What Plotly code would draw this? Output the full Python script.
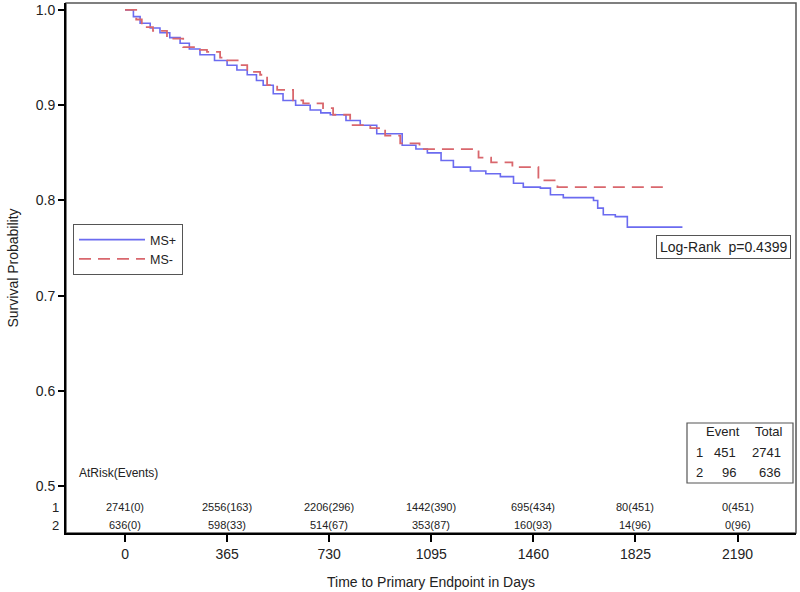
import plotly.graph_objects as go

# ---- data ----
ms_plus_t = [0, 30, 54, 90, 125, 160, 197, 230, 268, 320, 365, 400, 437, 470, 494, 530, 565, 610,
             662, 700, 734, 790, 841, 900, 991, 1040, 1081, 1130, 1174, 1235, 1290, 1342, 1389,
             1424, 1485, 1521, 1567, 1675, 1690, 1710, 1753, 1796, 1993]
ms_plus_s = [1.0, 0.993, 0.986, 0.981, 0.976, 0.971, 0.965, 0.959, 0.953, 0.947, 0.942, 0.937,
             0.932, 0.926, 0.921, 0.912, 0.905, 0.900, 0.895, 0.892, 0.890, 0.884, 0.879, 0.870,
             0.858, 0.854, 0.850, 0.842, 0.835, 0.831, 0.828, 0.825, 0.818, 0.814, 0.813, 0.806,
             0.803, 0.800, 0.792, 0.785, 0.783, 0.772, 0.772]

ms_minus_t = [0, 40, 60, 100, 150, 208, 250, 293, 340, 365, 412, 437, 483, 508, 544, 601, 637,
              708, 744, 805, 877, 930, 984, 1053, 1264, 1309, 1385, 1478, 1546, 1932]
ms_minus_s = [1.0, 0.990, 0.982, 0.978, 0.970, 0.961, 0.958, 0.956, 0.950, 0.947, 0.942, 0.935,
              0.932, 0.921, 0.916, 0.905, 0.902, 0.897, 0.890, 0.879, 0.876, 0.868, 0.860, 0.854,
              0.845, 0.840, 0.835, 0.821, 0.814, 0.814]

x_ticks = [0, 365, 730, 1095, 1460, 1825, 2190]
y_ticks = [0.5, 0.6, 0.7, 0.8, 0.9, 1.0]
risk_row1 = ["2741(0)", "2556(163)", "2206(296)", "1442(390)", "695(434)", "80(451)", "0(451)"]
risk_row2 = ["636(0)", "598(33)", "514(67)", "353(87)", "160(93)", "14(96)", "0(96)"]
event_groups = ["1", "2"]
event_counts = ["451", "96"]
event_totals = ["2741", "636"]
logrank_text = "Log-Rank  p=0.4399"

BLUE = "#6b6bf0"
RED = "#d9676d"
FONT = "Liberation Sans, Arial, sans-serif"
TXT = "#222222"

# plot-area geometry in pixels
L, R, T, B = 66, 796, 3, 533
W, H = 800, 592


def px(x):
    return (x - L) / float(R - L)


def py(y):
    return (B - y) / float(B - T)


fig = go.Figure()
fig.add_trace(go.Scatter(x=ms_plus_t, y=ms_plus_s, mode="lines", name="MS+",
                         line=dict(color=BLUE, width=1.6, shape="hv")))
fig.add_trace(go.Scatter(x=ms_minus_t, y=ms_minus_s, mode="lines", name="MS-",
                         line=dict(color=RED, width=1.8, shape="hv", dash="12px,7px")))

ann = []
# at-risk table
ann.append(dict(x=px(77), y=py(473), xref="paper", yref="paper", text="AtRisk(Events)",
                showarrow=False, xanchor="left", yanchor="middle",
                font=dict(family=FONT, size=12, color=TXT)))
for xv, r1, r2 in zip(x_ticks, risk_row1, risk_row2):
    ann.append(dict(x=xv, y=py(507), xref="x", yref="paper", text=r1, showarrow=False,
                    xanchor="center", yanchor="middle", font=dict(family=FONT, size=11, color=TXT)))
    ann.append(dict(x=xv, y=py(525), xref="x", yref="paper", text=r2, showarrow=False,
                    xanchor="center", yanchor="middle", font=dict(family=FONT, size=11, color=TXT)))
for lab, yy in zip(["1", "2"], [507, 525]):
    ann.append(dict(x=px(61), y=py(yy), xref="paper", yref="paper", text=lab, showarrow=False,
                    xanchor="right", yanchor="middle", font=dict(family=FONT, size=13, color=TXT)))

# log-rank box
ann.append(dict(x=px(791), y=py(247), xref="paper", yref="paper", text=logrank_text,
                showarrow=False, xanchor="right", yanchor="middle",
                bordercolor="#555555", borderwidth=1, borderpad=3, bgcolor="white",
                font=dict(family=FONT, size=14, color=TXT)))

# event / total table
ann.append(dict(x=px(742), y=py(432), xref="paper", yref="paper", text="Event", showarrow=False,
                xanchor="right", yanchor="middle", font=dict(family=FONT, size=13, color=TXT)))
ann.append(dict(x=px(785), y=py(432), xref="paper", yref="paper", text="Total", showarrow=False,
                xanchor="right", yanchor="middle", font=dict(family=FONT, size=13, color=TXT)))
for g, c, t, yy in zip(event_groups, event_counts, event_totals, [452, 472]):
    ann.append(dict(x=px(694), y=py(yy), xref="paper", yref="paper", text=g, showarrow=False,
                    xanchor="left", yanchor="middle", font=dict(family=FONT, size=13, color=TXT)))
    ann.append(dict(x=px(738), y=py(yy), xref="paper", yref="paper", text=c, showarrow=False,
                    xanchor="right", yanchor="middle", font=dict(family=FONT, size=13, color=TXT)))
    ann.append(dict(x=px(783), y=py(yy), xref="paper", yref="paper", text=t, showarrow=False,
                    xanchor="right", yanchor="middle", font=dict(family=FONT, size=13, color=TXT)))

shapes = [
    dict(type="rect", xref="paper", yref="paper", x0=0, y0=0, x1=1, y1=1,
         line=dict(color="#555555", width=1.5), layer="below"),
    dict(type="rect", xref="paper", yref="paper", x0=px(687), y0=py(483), x1=px(793), y1=py(423),
         line=dict(color="#555555", width=1.2)),
]

fig.update_layout(
    template="none",
    width=W, height=H,
    margin=dict(l=L, r=W - R, t=T, b=H - B, autoexpand=False),
    paper_bgcolor="white", plot_bgcolor="white",
    font=dict(family=FONT, size=13, color=TXT),
    annotations=ann, shapes=shapes,
    showlegend=True,
    legend=dict(x=px(73), y=py(224), xanchor="left", yanchor="top",
                bordercolor="#555555", borderwidth=1, bgcolor="white",
                font=dict(family=FONT, size=12.5, color=TXT), itemwidth=66,
                tracegroupgap=0),
    xaxis=dict(range=[-211, 2399], tickvals=x_ticks, ticktext=[str(v) for v in x_ticks],
               showgrid=False, zeroline=False, showline=True, linecolor="black", linewidth=2,
               ticks="outside", ticklen=7, tickwidth=1.5, tickcolor="black", automargin=False,
               tickfont=dict(family=FONT, size=14, color=TXT),
               title=dict(text="Time to Primary Endpoint in Days", standoff=16,
                          font=dict(family=FONT, size=14, color=TXT))),
    yaxis=dict(range=[0.4509, 1.0073], tickvals=y_ticks,
               ticktext=["0.5", "0.6", "0.7", "0.8", "0.9", "1.0"],
               showgrid=False, zeroline=False, showline=True, linecolor="black", linewidth=2,
               ticks="outside", ticklen=6, tickwidth=1.5, tickcolor="black", automargin=False,
               tickfont=dict(family=FONT, size=14, color=TXT),
               title=dict(text="Survival Probability", standoff=14,
                          font=dict(family=FONT, size=14, color=TXT))),
)

# remove the browser's default 8px page margin so the figure sits at the window origin
fig.write_html("out.html",
               config={"displayModeBar": False},
               post_script="document.body.style.margin='0px';document.body.style.overflow='hidden';")
